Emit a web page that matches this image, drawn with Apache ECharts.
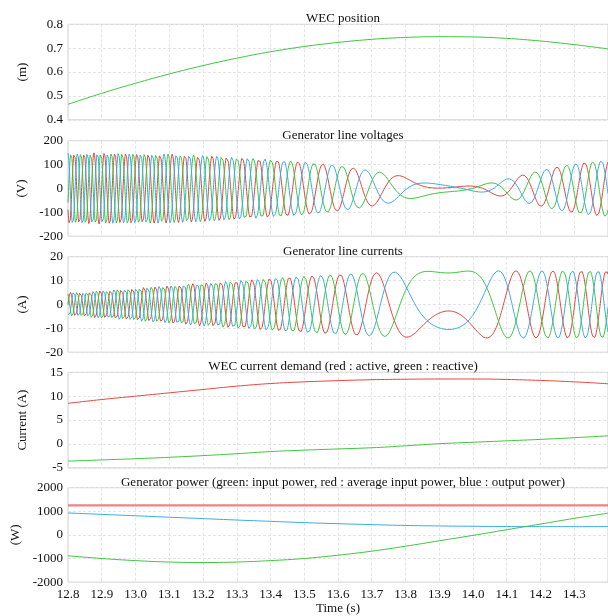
<!DOCTYPE html>
<html>
<head>
<meta charset="utf-8">
<script src="https://cdn.jsdelivr.net/npm/echarts@6/dist/echarts.min.js"></script>
<style>
  html, body { margin: 0; padding: 0; background: #fff; }
  #chart { width: 608px; height: 616px; }
</style>
</head>
<body>
<div id="chart"></div>
<script>
// Sample times (s) for the slow quantities
const timeSamples = [12.8, 12.9, 13.0, 13.1, 13.2, 13.3, 13.4, 13.5, 13.6, 13.7, 13.8, 13.9, 14.0, 14.1, 14.2, 14.3, 14.4];

// WEC position (m)
const wecPosition = [0.465, 0.511, 0.553, 0.592, 0.627, 0.658, 0.685, 0.707, 0.724, 0.737, 0.745, 0.748, 0.747, 0.741, 0.730, 0.715, 0.697];

// Line-voltage EMF amplitude (V), sign follows direction of travel
const voltageEnvelope = [145, 144, 141, 137, 131, 122, 112, 100, 84, 62, 36, 6, -18, -50, -86, -114, -130];

// Line-current amplitude (A)
const currentEnvelope = [5.0, 5.9, 7.0, 8.0, 9.0, 10.0, 11.0, 11.8, 12.5, 13.2, 13.7, 13.9, 14.0, 14.1, 14.1, 14.1, 14.1];

// WEC current demand (A)
const activeCurrent = [8.5, 9.3, 10.0, 10.7, 11.4, 12.1, 12.65, 13.0, 13.25, 13.45, 13.55, 13.6, 13.6, 13.5, 13.3, 13.0, 12.6];
const reactiveCurrent = [-3.6, -3.35, -3.1, -2.8, -2.45, -2.05, -1.6, -1.3, -1.05, -0.8, -0.4, 0.05, 0.35, 0.65, 0.95, 1.3, 1.7];

// Generator power (W)
const inputPower = [-885, -1000, -1090, -1150, -1170, -1150, -1090, -1000, -860, -690, -480, -250, -20, 220, 460, 700, 920];
const avgInputPower = [1250, 1250, 1250, 1250, 1250, 1250, 1250, 1250, 1250, 1250, 1250, 1250, 1250, 1250, 1250, 1250, 1250];
const outputPower = [930, 870, 810, 750, 690, 630, 575, 520, 475, 435, 400, 380, 365, 355, 350, 350, 355];

// Axis tick settings [min, max, interval]
const yTicks = [[0.4, 0.8, 0.1], [-200, 200, 100], [-20, 20, 10], [-5, 15, 5], [-2000, 2000, 1000]];
const panelTitles = [
  'WEC position',
  'Generator line voltages',
  'Generator line currents',
  'WEC current demand (red : active, green : reactive)',
  'Generator power (green: input power, red : average input power, blue : output power)'
];
const yNames = ['(m)', '(V)', '(A)', 'Current (A)', '(W)'];

// Linear generator / electrical model constants
const POLE_PAIR_PITCH = 0.0135;   // m of travel per electrical cycle
const ANGLE_AT_TOP = 4.45;        // electrical angle (rad) at the top of the stroke
const VOLTAGE_LAG = 2.45;         // rad
const WINDING_R = 1.1;            // ohm
const STEP = 0.0005;              // s

const RED = '#e5463f', GREEN = '#3ec53e', BLUE = '#3aaae6';
const FONT = '"Liberation Serif", "Times New Roman", serif';

// Natural cubic spline through the sample points
function makeSpline(xs, ys) {
  const n = xs.length;
  const h = [], m = new Array(n).fill(0);
  for (let i = 0; i < n - 1; i++) h.push(xs[i + 1] - xs[i]);
  const alpha = new Array(n).fill(0);
  for (let i = 1; i < n - 1; i++) {
    alpha[i] = 6 * ((ys[i + 1] - ys[i]) / h[i] - (ys[i] - ys[i - 1]) / h[i - 1]);
  }
  const l = new Array(n).fill(1), mu = new Array(n).fill(0), z = new Array(n).fill(0);
  for (let i = 1; i < n - 1; i++) {
    l[i] = 2 * (xs[i + 1] - xs[i - 1]) - h[i - 1] * mu[i - 1];
    mu[i] = h[i] / l[i];
    z[i] = (alpha[i] - h[i - 1] * z[i - 1]) / l[i];
  }
  for (let j = n - 2; j >= 1; j--) m[j] = z[j] - mu[j] * m[j + 1];
  return function (x) {
    let i = 0;
    while (i < n - 2 && x > xs[i + 1]) i++;
    const t1 = xs[i + 1] - x, t0 = x - xs[i], hi = h[i];
    return m[i] * t1 * t1 * t1 / (6 * hi) + m[i + 1] * t0 * t0 * t0 / (6 * hi)
      + (ys[i] / hi - m[i] * hi / 6) * t1 + (ys[i + 1] / hi - m[i + 1] * hi / 6) * t0;
  };
}

const posAt = makeSpline(timeSamples, wecPosition);
const voltAt = makeSpline(timeSamples, voltageEnvelope);
const currAt = makeSpline(timeSamples, currentEnvelope);
const xTop = Math.max(...wecPosition);

// Three-phase waveforms derived from the position (electrical angle follows travel)
const phaseShift = [0, 2 * Math.PI / 3, -2 * Math.PI / 3];
const voltageSeries = [[], [], []];
const currentSeries = [[], [], []];
const nSteps = Math.round((timeSamples[timeSamples.length - 1] - timeSamples[0]) / STEP);
for (let s = 0; s <= nSteps; s++) {
  const t = +(timeSamples[0] + s * STEP).toFixed(4);
  const theta = ANGLE_AT_TOP + 2 * Math.PI * (posAt(t) - xTop) / POLE_PAIR_PITCH;
  const E = voltAt(t), I = currAt(t);
  for (let k = 0; k < 3; k++) {
    const ik = I * Math.cos(theta + phaseShift[k]);
    const vk = E * Math.cos(theta - VOLTAGE_LAG + phaseShift[k]) - WINDING_R * ik;
    currentSeries[k].push([t, ik]);
    voltageSeries[k].push([t, vk]);
  }
}

const zip = (ys) => timeSamples.map((t, i) => [t, ys[i]]);

const gridTops = [24.3, 140.7, 256.7, 372.3, 487.7];
const gridH = 95.5;

const grids = gridTops.map(top => ({
  left: 68, right: 0, top: top, height: gridH,
  show: true, borderColor: '#d0d0d0', borderWidth: 1, backgroundColor: 'transparent'
}));

const xAxes = gridTops.map((_, i) => ({
  type: 'value', gridIndex: i, min: 12.8, max: 14.4, interval: 0.1,
  axisLine: { show: false }, axisTick: { show: false },
  splitLine: { show: true, lineStyle: { color: '#e4e4e4', type: [3, 2], width: 1 } },
  axisLabel: {
    show: i === 4, showMaxLabel: false, margin: 6,
    fontFamily: FONT, fontSize: 13, color: '#111',
    formatter: v => v.toFixed(1)
  },
  name: i === 4 ? 'Time (s)' : '', nameLocation: 'middle', nameGap: 19,
  nameTextStyle: { fontFamily: FONT, fontSize: 13, color: '#111' }
}));

const yAxes = yTicks.map((tk, i) => ({
  type: 'value', gridIndex: i, min: tk[0], max: tk[1], interval: tk[2],
  axisLine: { show: false }, axisTick: { show: false },
  splitLine: { show: true, lineStyle: { color: '#e4e4e4', type: [3, 2], width: 1 } },
  axisLabel: {
    margin: 5, fontFamily: FONT, fontSize: 13, color: '#111',
    formatter: v => (i === 0 ? v.toFixed(1) : String(Math.round(v)))
  },
  name: yNames[i], nameLocation: 'middle', nameGap: 39, nameRotate: 90,
  nameTextStyle: { fontFamily: FONT, fontSize: 13, color: '#111' }
}));

const titles = panelTitles.map((txt, i) => ({
  text: txt, left: 338, top: gridTops[i] - 17, textAlign: 'center',
  textStyle: { fontFamily: FONT, fontSize: 13, fontWeight: 'normal', color: '#111' }
}));

function line(data, xi, color, extra) {
  return Object.assign({
    type: 'line', xAxisIndex: xi, yAxisIndex: xi, data: data,
    showSymbol: false, symbol: 'none', lineStyle: { color: color, width: 1 },
    itemStyle: { color: color }, animation: false, silent: true
  }, extra || {});
}

const colors = [RED, GREEN, BLUE];
const series = [
  line(zip(wecPosition), 0, GREEN, { smooth: 0.4 }),
  ...voltageSeries.map((d, k) => line(d, 1, colors[k])),
  ...currentSeries.map((d, k) => line(d, 2, colors[k])),
  line(zip(activeCurrent), 3, RED, { smooth: 0.4 }),
  line(zip(reactiveCurrent), 3, GREEN, { smooth: 0.4 }),
  line(zip(avgInputPower), 4, '#e98585', { lineStyle: { color: '#e98585', width: 2.2 } }),
  line(zip(outputPower), 4, BLUE, { smooth: 0.4 }),
  line(zip(inputPower), 4, GREEN, { smooth: 0.4 })
];

const chart = echarts.init(document.getElementById('chart'), null, { renderer: 'canvas' });
chart.setOption({
  animation: false,
  backgroundColor: '#fff',
  title: titles,
  grid: grids,
  xAxis: xAxes,
  yAxis: yAxes,
  series: series
});
</script>
</body>
</html>
